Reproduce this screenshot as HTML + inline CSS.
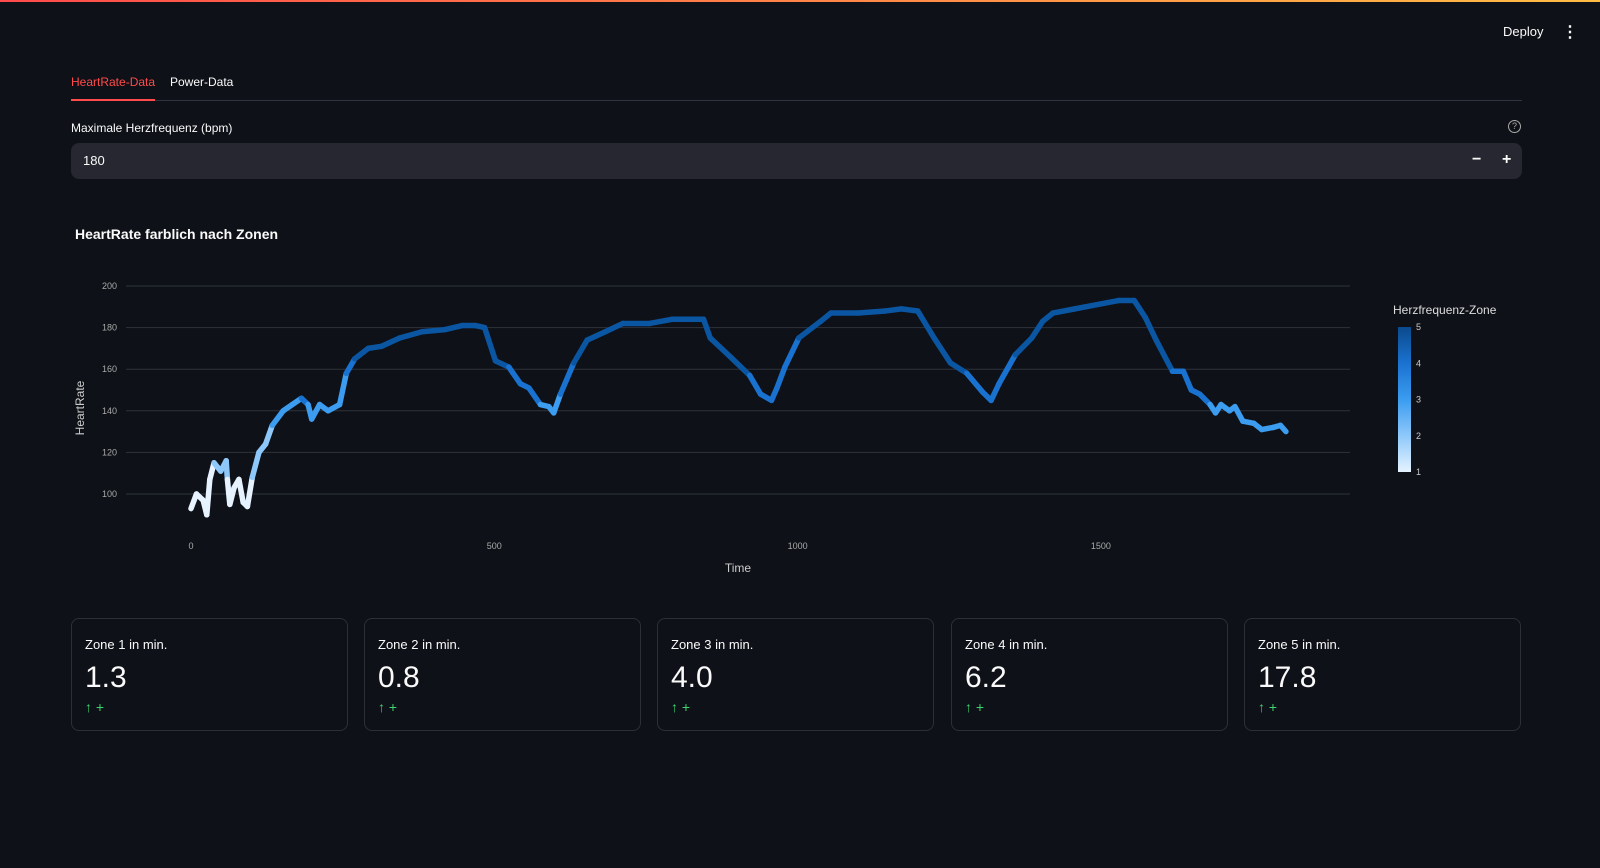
<!DOCTYPE html>
<html><head><meta charset="utf-8">
<style>
body{margin:0;width:1600px;height:868px;background:#0e1117;font-family:"Liberation Sans",sans-serif;color:#fafafa;overflow:hidden;position:relative}
.abs{position:absolute}
.card{position:absolute;top:618px;width:277px;height:113px;border:1px solid #2b2f38;border-radius:8px;box-sizing:border-box}
.card .l{position:absolute;left:13px;top:18px;font-size:13px}
.card .v{position:absolute;left:13px;top:42px;font-size:30px}
.card .d{position:absolute;left:13px;top:80px;font-size:14px;color:#3dd56d}
</style></head><body>
<div class="abs" style="left:0;top:0;width:1600px;height:2px;background:linear-gradient(90deg,#ff4b4b,#ffbd45)"></div>
<div class="abs" style="left:1503px;top:24px;font-size:13px">Deploy</div>
<div class="abs" style="left:1562px;top:22px;font-size:16px;font-weight:bold">⋮</div>
<div class="abs" style="left:71px;top:75px;font-size:12px;color:#ff4b4b">HeartRate-Data</div>
<div class="abs" style="left:170px;top:75px;font-size:12px">Power-Data</div>
<div class="abs" style="left:71px;top:100px;width:1451px;height:1px;background:#31333f"></div>
<div class="abs" style="left:71px;top:99px;width:84px;height:2px;background:#ff4b4b"></div>
<div class="abs" style="left:71px;top:121px;font-size:12px">Maximale Herzfrequenz (bpm)</div>
<div class="abs" style="left:1508px;top:120px;width:11px;height:11px;border:1.3px solid #aaa;border-radius:50%;font-size:9px;color:#aaa;text-align:center;line-height:11px">?</div>
<div class="abs" style="left:71px;top:143px;width:1451px;height:36px;background:#262730;border-radius:8px">
 <span style="position:absolute;left:12px;top:10px;font-size:13px">180</span>
 <span style="position:absolute;left:1401px;top:8px;font-size:16px;font-weight:bold">−</span>
 <span style="position:absolute;left:1431px;top:8px;font-size:16px;font-weight:bold">+</span>
</div>
<div class="abs" style="left:75px;top:226px;font-size:14px;font-weight:bold">HeartRate farblich nach Zonen</div>
<svg class="abs" style="left:0;top:0" width="1600" height="868" id="chart">
<defs><linearGradient id="cb" x1="0" y1="1" x2="0" y2="0">
<stop offset="0" stop-color="#e6f3ff"/><stop offset="0.25" stop-color="#8ec8fa"/><stop offset="0.5" stop-color="#3b9cf0"/><stop offset="0.75" stop-color="#1a72d0"/><stop offset="1" stop-color="#0b4a8c"/></linearGradient></defs>
<g id="grid"></g><g id="marks"></g>
<text x="738" y="572" fill="#ccc" font-size="12" text-anchor="middle">Time</text>
<text transform="translate(84,408) rotate(-90)" fill="#ccc" font-size="12" text-anchor="middle">HeartRate</text>
<text x="1393" y="314" fill="#ddd" font-size="12">Herzfrequenz-Zone</text>
<rect x="1398" y="327" width="13" height="145" fill="url(#cb)"/>
<g id="cbticks"></g>
</svg>
<div class="card" style="left:71px"><div class="l">Zone 1 in min.</div><div class="v">1.3</div><div class="d">↑ +</div></div>
<div class="card" style="left:364px"><div class="l">Zone 2 in min.</div><div class="v">0.8</div><div class="d">↑ +</div></div>
<div class="card" style="left:657px"><div class="l">Zone 3 in min.</div><div class="v">4.0</div><div class="d">↑ +</div></div>
<div class="card" style="left:951px"><div class="l">Zone 4 in min.</div><div class="v">6.2</div><div class="d">↑ +</div></div>
<div class="card" style="left:1244px"><div class="l">Zone 5 in min.</div><div class="v">17.8</div><div class="d">↑ +</div></div>
<script>
const times=[0,9,20,26,31,38,49,58,60,64,71,79,86,93,101,112,123,134,152,167,182,193,199,212,226,245,256,270,292,314,344,381,418,447,469,484,502,524,543,557,576,590,598,609,631,653,683,712,756,793,845,856,889,921,939,957,966,979,1002,1038,1055,1100,1145,1171,1198,1225,1252,1279,1305,1319,1332,1359,1386,1404,1421,1457,1493,1529,1555,1573,1591,1609,1618,1636,1649,1663,1680,1689,1698,1712,1721,1734,1752,1765,1784,1796,1805];
const hr=[93,100,97,90,107,115,111,116,107,95,103,107,96,94,108,120,124,133,140,143,146,143,136,143,140,143,158,165,170,171,175,178,179,181,181,180,164,161,153,151,143,142,139,148,163,174,178,182,182,184,184,175,166,157,148,145,151,161,175,183,187,187,188,189,188,175,163,158,149,145,153,167,175,183,187,189,191,193,193,185,174,164,159,159,150,148,143,139,143,140,142,135,134,131,132,133,130];
const yTicks=[100,120,140,160,180,200];
const xTicks=[0,500,1000,1500];
const zoneTicks=[1,2,3,4,5];
const maxHR=180;
const zoneColors=["#e6f3ff","#8ec8fa","#3b9cf0","#1a72d0","#0b56a3"];
const X=t=>191+t*0.6066, Y=v=>286+(200-v)*2.08;
const NS="http://www.w3.org/2000/svg";
function mk(tag,attrs,parent){const e=document.createElementNS(NS,tag);for(const k in attrs)e.setAttribute(k,attrs[k]);parent.appendChild(e);return e;}
const grid=document.getElementById('grid'),marks=document.getElementById('marks'),cbt=document.getElementById('cbticks');
yTicks.forEach(v=>{
 const l=mk('line',{x1:126,x2:1350,y1:Y(v),y2:Y(v),stroke:'#2e323b','stroke-width':1},grid);
 
 
 const t=mk('text',{x:117,y:Y(v)+3,fill:'#aaa','font-size':9,'text-anchor':'end'},grid);t.textContent=v;
 
 
});
xTicks.forEach(v=>{
 const t=mk('text',{x:X(v),y:549,fill:'#aaa','font-size':9,'text-anchor':'middle'},grid);t.textContent=v;
 
 
});
zoneTicks.forEach(z=>{
 const t=mk('text',{x:1416,y:472-(z-1)*36.25+3,fill:'#ccc','font-size':9},cbt);t.textContent=z;
 
 
});
function zone(v){const p=v/maxHR;return p<0.6?1:p<0.7?2:p<0.8?3:p<0.9?4:5;}
for(let i=0;i<times.length-1;i++){
 const s=mk('line',{x1:X(times[i]),y1:Y(hr[i]),x2:X(times[i+1]),y2:Y(hr[i+1]),stroke:zoneColors[zone(hr[i])-1],'stroke-width':5.5,'stroke-linecap':'round'},marks);
 
 
}
</script>
</body></html>
